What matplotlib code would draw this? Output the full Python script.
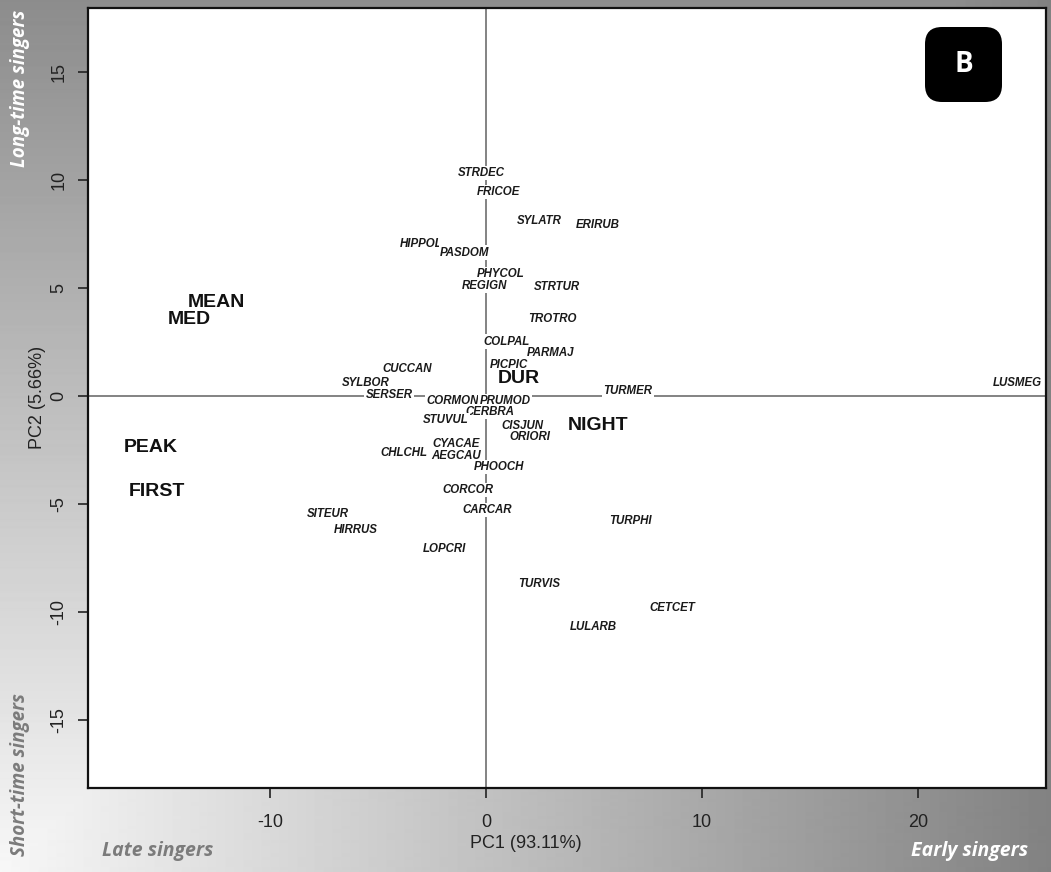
import matplotlib
matplotlib.use("Agg")
import matplotlib.pyplot as plt
import numpy as np
from matplotlib import font_manager
from matplotlib.patches import FancyBboxPatch

# ---------------- data ----------------
species = ["STRDEC", "FRICOE", "SYLATR", "ERIRUB", "HIPPOL", "PASDOM", "PHYCOL",
           "REGIGN", "STRTUR", "TROTRO", "COLPAL", "PARMAJ", "CUCCAN", "PICPIC",
           "SYLBOR", "SERSER", "TURMER", "LUSMEG", "CORMON", "PRUMOD", "CERBRA",
           "STUVUL", "CISJUN", "ORIORI", "CYACAE", "CHLCHL", "AEGCAU", "PHOOCH",
           "CORCOR", "CARCAR", "SITEUR", "HIRRUS", "LOPCRI", "TURPHI", "TURVIS",
           "CETCET", "LULARB"]
species_pc1 = [-0.23, 0.56, 2.45, 5.19, -2.98, -0.97, 0.68,
               -0.09, 3.27, 3.10, 0.96, 3.00, -3.67, 1.06,
               -5.56, -4.49, 6.56, 24.6, -1.53, 0.88, 0.19,
               -1.87, 1.67, 2.04, -1.36, -3.80, -1.40, 0.60,
               -0.83, 0.05, -7.31, -6.02, -1.90, 6.67, 2.45,
               8.64, 4.95]
species_pc2 = [10.32, 9.44, 8.10, 7.92, 7.04, 6.63, 5.65,
               5.09, 5.06, 3.56, 2.51, 2.00, 1.25, 1.44,
               0.60, 0.05, 0.23, 0.60, -0.23, -0.23, -0.73,
               -1.11, -1.39, -1.90, -2.22, -2.63, -2.78, -3.29,
               -4.35, -5.28, -5.46, -6.20, -7.08, -5.77, -8.69,
               -9.80, -10.68]

variables = ["MEAN", "MED", "PEAK", "FIRST", "DUR", "NIGHT"]
var_pc1 = [-12.47, -13.75, -15.52, -15.23, 1.53, 5.19]
var_pc2 = [4.31, 3.52, -2.39, -4.44, 0.83, -1.38]

xticks = [-10, 0, 10, 20]
yticks = [-15, -10, -5, 0, 5, 10, 15]
xlabel = "PC1 (93.11%)"
ylabel = "PC2 (5.66%)"


def have(name):
    try:
        font_manager.findfont(font_manager.FontProperties(family=name),
                              fallback_to_default=False)
        return True
    except Exception:
        return False


narrow = "Liberation Sans Narrow" if have("Liberation Sans Narrow") else None
sp_family = narrow if narrow else "Liberation Sans"
sp_size = 9.2 if narrow else 8.3
arial = "Liberation Sans"
deco = "Open Sans"

W, H = 1051, 872
fig = plt.figure(figsize=(W / 100, H / 100), dpi=100)

# background gradient (grey bands)
bg = fig.add_axes([0, 0, 1, 1], zorder=-10)
yy, xx = np.mgrid[0:H, 0:W]
f1 = 0.55 + 0.42 * yy / (H - 1)
f2 = 0.97 - 0.46 * xx / (W - 1)
g = np.minimum(f1, f2)
bg.imshow(g, cmap="gray", vmin=0, vmax=1, extent=[0, 1, 0, 1], aspect="auto",
          interpolation="bilinear")
bg.axis("off")

L, R, T, B = 87.5, 1046, 8, 788
ax = fig.add_axes([L / W, 1 - B / H, (R - L) / W, (B - T) / H])
ax.set_facecolor("white")
ax.set_xlim(-18.45, 25.93)
ax.set_ylim(-18.15, 17.96)

ax.axhline(0, color="#7a7a7a", lw=1.3, zorder=1)
ax.axvline(0, color="#7a7a7a", lw=1.3, zorder=1)

for name, x, y in zip(species, species_pc1, species_pc2):
    ax.text(x, y, name, ha="center", va="center", family=sp_family,
            fontsize=sp_size, fontweight="bold", style="italic", color="#1a1a1a",
            zorder=3,
            bbox=dict(boxstyle="square,pad=0.12", fc="white", ec="none"))

for name, x, y in zip(variables, var_pc1, var_pc2):
    ax.text(x, y, name, ha="center", va="center", family=arial,
            fontsize=14, fontweight="bold", color="#111111", zorder=4,
            bbox=dict(boxstyle="square,pad=0.05", fc="white", ec="none"))

for s in ax.spines.values():
    s.set_color("#111111")
    s.set_linewidth(1.6)

ax.set_xticks(xticks)
ax.set_xticklabels([str(t) for t in xticks], family=arial, fontsize=13,
                   color="#222222")
ax.set_yticks(yticks)
ax.set_yticklabels([str(t) for t in yticks], family=arial, fontsize=13,
                   color="#222222", rotation=90, va="center")
ax.tick_params(axis="both", direction="out", length=7.5, width=1.2,
               color="#222222")
ax.tick_params(axis="x", pad=11)
ax.tick_params(axis="y", pad=7)

ax.set_xlabel(xlabel, family=arial, fontsize=13, color="#222222")
ax.xaxis.set_label_coords((526 - L) / (R - L), (B - 843) / (B - T))
ax.xaxis.label.set_va("center")
ax.set_ylabel(ylabel, family=arial, fontsize=13, color="#222222")
ax.yaxis.set_label_coords((37.5 - L) / (R - L), (B - 397) / (B - T))
ax.yaxis.label.set_va("center")

# decorative band labels
fig.text(158 / W, 1 - 851 / H, "Late singers", family=deco, style="italic",
         fontweight="bold", fontsize=14, color="#7b7b7b", ha="center", va="center")
fig.text(970 / W, 1 - 851 / H, "Early singers", family=deco, style="italic",
         fontweight="bold", fontsize=14, color="white", ha="center", va="center")
fig.text(20 / W, 1 - 88 / H, "Long-time singers", family=deco, style="italic",
         fontweight="bold", fontsize=13.5, color="white", ha="center",
         va="center", rotation=90)
fig.text(20 / W, 1 - 775 / H, "Short-time singers", family=deco, style="italic",
         fontweight="bold", fontsize=13.5, color="#7b7b7b", ha="center",
         va="center", rotation=90)

# panel badge
badge = FancyBboxPatch((9.25, (H - 102) / 100), 0.77, 0.75,
                       boxstyle="round,pad=0,rounding_size=0.17",
                       transform=fig.dpi_scale_trans, fc="black", ec="none",
                       zorder=10)
fig.patches.append(badge)
fig.text(963.5 / W, 1 - 64.5 / H, "B", family=deco, fontweight="bold",
         fontsize=20, color="white", ha="center", va="center", zorder=11)

fig.savefig("out.png", dpi=100)
